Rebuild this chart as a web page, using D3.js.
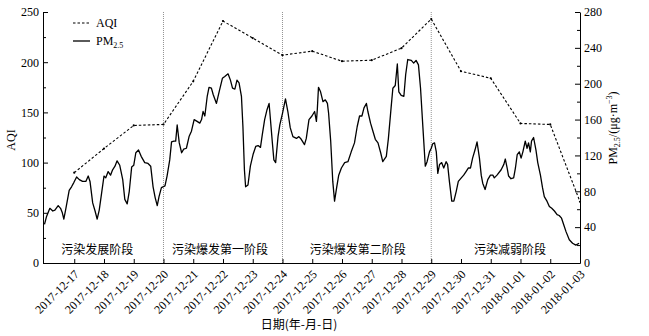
<!DOCTYPE html>
<html>
<head>
<meta charset="utf-8">
<script src="https://cdn.jsdelivr.net/npm/d3@7"></script>
<style>
  body { margin: 0; background: #fff; }
  text { font-family: "Liberation Serif", "Times New Roman", serif; fill: #000; }
  .cjk { font-family: "Noto Sans CJK SC", sans-serif; }
</style>
</head>
<body>
<svg id="chart" width="649" height="336"></svg>
<script>
// tick labels (day 1 .. 18, day 0 = 2017-12-16 00:00)
const dateLabels = ["2017-12-17","2017-12-18","2017-12-19","2017-12-20","2017-12-21","2017-12-22",
  "2017-12-23","2017-12-24","2017-12-25","2017-12-26","2017-12-27","2017-12-28","2017-12-29",
  "2017-12-30","2017-12-31","2018-01-01","2018-01-02","2018-01-03"];

// daily AQI, one per date label
const aqi = [90,114,137,138,181,241,224,207,211,201,202,214,243,191,184,139,138,61];

// hourly PM2.5: time in days, value in ug/m3
const pmDay = [0,0.07,0.18,0.28,0.35,0.46,0.54,0.60,0.65,0.72,0.83,0.91,0.99,1.08,1.17,1.28,1.39,1.47,1.53,1.62,
  1.70,1.77,1.84,1.92,2.00,2.06,2.14,2.22,2.29,2.37,2.44,2.53,2.63,2.70,2.78,2.85,2.93,3.00,3.07,3.16,
  3.25,3.37,3.48,3.57,3.65,3.72,3.79,3.85,3.93,4.05,4.12,4.21,4.27,4.35,4.41,4.46,4.53,4.61,4.68,4.77,
  4.86,4.94,5.03,5.13,5.22,5.28,5.33,5.39,5.47,5.53,5.61,5.67,5.78,5.87,5.98,6.06,6.17,6.25,6.32,6.40,
  6.47,6.54,6.62,6.67,6.72,6.76,6.84,6.92,7.01,7.10,7.18,7.26,7.32,7.40,7.48,7.55,7.59,7.66,7.71,7.77,
  7.85,7.91,8.00,8.10,8.18,8.26,8.35,8.47,8.55,8.63,8.74,8.80,8.89,8.99,9.08,9.14,9.17,9.21,9.28,9.36,
  9.44,9.51,9.55,9.62,9.69,9.75,9.82,9.89,9.98,10.09,10.20,10.31,10.42,10.51,10.59,10.67,10.74,10.82,10.87,10.96,
  11.04,11.12,11.21,11.30,11.37,11.49,11.56,11.65,11.71,11.79,11.86,11.91,11.99,12.08,12.14,12.21,12.33,12.41,12.49,12.57,
  12.64,12.72,12.80,12.86,12.94,13.00,13.05,13.11,13.17,13.22,13.28,13.35,13.42,13.50,13.55,13.61,13.69,13.76,13.84,13.91,
  14.01,14.09,14.17,14.25,14.32,14.39,14.47,14.54,14.62,14.68,14.73,14.81,14.90,14.99,15.07,15.12,15.21,15.35,15.44,15.49,
  15.55,15.60,15.68,15.77,15.83,15.89,15.96,16.02,16.08,16.16,16.22,16.27,16.33,16.37,16.44,16.52,16.58,16.67,16.74,16.80,
  16.89,16.97,17.05,17.14,17.23,17.30,17.38,17.45,17.53,17.64,17.75,17.86,17.97];
const pmVal = [43,52,61,58,59,64,61,56,49,61,81,85,90,96,93,91,91,97,91,67,
  58,49,59,78,97,95,102,98,104,108,114,109,93,71,66,80,107,109,123,126,
  119,112,111,108,85,73,64,74,84,86,97,115,135,136,136,154,134,123,127,128,
  141,147,160,158,156,160,169,164,186,196,195,188,178,191,206,208,211,204,195,194,
  204,201,186,152,104,85,87,108,121,130,131,129,143,160,171,178,162,134,115,112,
  141,154,167,183,169,151,141,139,141,138,132,139,160,164,169,158,171,196,191,180,
  182,178,167,136,91,69,84,98,106,112,113,124,134,152,164,164,173,178,169,156,
  147,138,134,123,113,119,139,173,195,198,222,191,187,186,210,227,226,223,226,221,
  195,151,108,113,124,128,133,134,124,100,110,112,106,113,110,91,69,69,80,91,
  95,98,102,106,106,117,126,135,117,98,89,82,93,98,98,95,98,104,110,116,
  106,97,94,95,106,121,124,117,124,136,128,134,124,136,140,126,112,98,84,74,
  69,63,61,58,54,53,50,43,35,26,22,20,22];

const stageNames = ["污染发展阶段","污染爆发第一阶段","污染爆发第二阶段","污染减弱阶段"];
const stageBreaks = [4, 8, 13];          // 2017-12-20, 2017-12-24, 2017-12-29
const stageAt = [1.77, 5.9, 10.53, 15.65];

const aqiTicks = [0,50,100,150,200,250];
const pmTicks = [0,40,80,120,160,200,240,280];

const svg = d3.select("#chart");
const pLeft = 43, pRight = 580, pTop = 12, pBottom = 263;

const x = d3.scaleLinear().domain([-0.05, 18]).range([pLeft, pRight]);
const yL = d3.scaleLinear().domain([0, 250]).range([pBottom, pTop]);
const yR = d3.scaleLinear().domain([0, 280]).range([pBottom, pTop]);

// stage separators
svg.append("g").selectAll("line").data(stageBreaks).join("line")
  .attr("x1", d => x(d)).attr("x2", d => x(d))
  .attr("y1", pTop).attr("y2", pBottom)
  .attr("stroke", "#777").attr("stroke-width", 0.8).attr("stroke-dasharray", "1,1");

// stage labels
svg.append("g").selectAll("text").data(stageNames).join("text")
  .attr("class", "cjk")
  .attr("x", (d, i) => x(stageAt[i])).attr("y", 254)
  .attr("text-anchor", "middle").attr("font-size", 12)
  .text(d => d);

// axes
const xAxis = svg.append("g").attr("transform", `translate(0,${pBottom})`)
  .call(d3.axisBottom(x).tickValues(d3.range(1, 19)).tickSize(-4).tickSizeOuter(0)
    .tickFormat(d => dateLabels[d - 1]));
xAxis.selectAll("text")
  .attr("font-size", 12).attr("text-anchor", "end")
  .attr("x", 0).attr("y", 0).attr("dy", "0.35em")
  .attr("transform", "translate(2,9) rotate(-45)");

const lAxis = svg.append("g").attr("transform", `translate(${pLeft},0)`)
  .call(d3.axisLeft(yL).tickValues(aqiTicks).tickSize(-5).tickPadding(4).tickSizeOuter(0));
lAxis.selectAll("text").attr("font-size", 12);
svg.append("g").attr("transform", `translate(${pLeft},0)`)
  .call(d3.axisLeft(yL).tickValues(d3.range(25, 250, 50)).tickSize(-3).tickFormat(""))
  .select(".domain").remove();

const rAxis = svg.append("g").attr("transform", `translate(${pRight},0)`)
  .call(d3.axisRight(yR).tickValues(pmTicks).tickSize(-5).tickPadding(4).tickSizeOuter(0));
rAxis.selectAll("text").attr("font-size", 12);
svg.append("g").attr("transform", `translate(${pRight},0)`)
  .call(d3.axisRight(yR).tickValues(d3.range(20, 280, 40)).tickSize(-3).tickFormat(""))
  .select(".domain").remove();

svg.selectAll(".domain, .tick line").attr("stroke", "#000");

// axis titles
svg.append("text").attr("transform", "translate(15,140) rotate(-90)")
  .attr("text-anchor", "middle").attr("font-size", 12).text("AQI");

const rt = svg.append("text").attr("transform", "translate(617,128) rotate(-90)")
  .attr("text-anchor", "middle").attr("font-size", 12);
rt.append("tspan").text("PM");
rt.append("tspan").attr("font-size", 8).attr("dy", 3).text("2.5");
rt.append("tspan").attr("dy", -3).text("/(μg·m");
rt.append("tspan").attr("font-size", 8).attr("dy", -5).text("−3");
rt.append("tspan").attr("dy", 5).text(")");

svg.append("text").attr("class", "cjk").attr("x", 299).attr("y", 329)
  .attr("text-anchor", "middle").attr("font-size", 12).text("日期(年-月-日)");

// AQI dashed line
const aqiLine = d3.line().x((d, i) => x(i + 1)).y(d => yL(d));
svg.append("path").datum(aqi)
  .attr("d", aqiLine).attr("fill", "none")
  .attr("stroke", "#000").attr("stroke-width", 1.1).attr("stroke-dasharray", "2.5,2");
svg.append("g").selectAll("circle").data(aqi).join("circle")
  .attr("cx", (d, i) => x(i + 1)).attr("cy", d => yL(d)).attr("r", 1.1).attr("fill", "#000");

// PM2.5 solid line
const pmLine = d3.line().x(d => x(pmDay[d])).y(d => yR(pmVal[d]));
svg.append("path").datum(d3.range(pmDay.length))
  .attr("d", pmLine).attr("fill", "none")
  .attr("stroke", "#000").attr("stroke-width", 1.3).attr("stroke-linejoin", "round");

// legend
const lg = svg.append("g");
lg.append("line").attr("x1", 73).attr("x2", 90).attr("y1", 23).attr("y2", 23)
  .attr("stroke", "#000").attr("stroke-width", 1.1).attr("stroke-dasharray", "2.5,2");
lg.append("text").attr("x", 96).attr("y", 27).attr("font-size", 12).text("AQI");
lg.append("line").attr("x1", 73).attr("x2", 90).attr("y1", 41).attr("y2", 41)
  .attr("stroke", "#000").attr("stroke-width", 1.3);
const lt = lg.append("text").attr("x", 96).attr("y", 45).attr("font-size", 12);
lt.append("tspan").text("PM");
lt.append("tspan").attr("font-size", 8).attr("dy", 3).text("2.5");
</script>
</body>
</html>
